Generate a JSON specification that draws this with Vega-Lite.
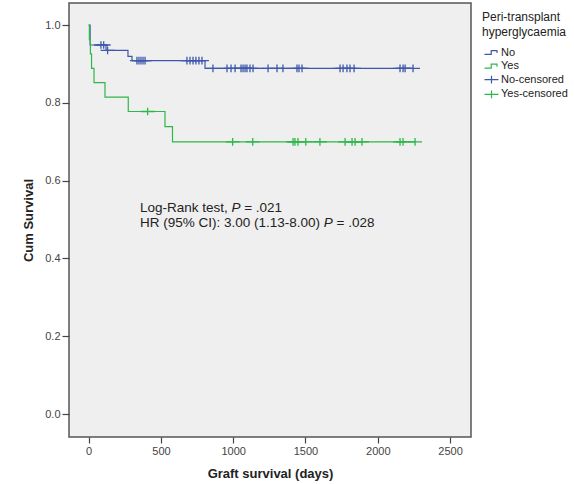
{
  "$schema": "https://vega.github.io/schema/vega-lite/v6.json",
  "width": 402,
  "height": 434,
  "autosize": {"type": "none"},
  "padding": {"left": 69, "top": 3, "right": 103, "bottom": 47},
  "background": "white",
  "config": {
    "font": "Liberation Sans",
    "view": {"fill": "#efefef", "stroke": "#555555", "strokeWidth": 1.5},
    "axis": {"grid": false, "domain": false, "tickColor": "#444444", "tickWidth": 1.2, "labelFont": "Liberation Sans", "labelFontSize": 11, "labelColor": "#444444", "titleFont": "Liberation Sans", "titleFontSize": 13, "titleFontWeight": "bold", "titleColor": "#222222"},
    "legend": {"orient": "none", "legendX": 413, "legendY": 9, "titleFont": "Liberation Sans", "titleFontSize": 12, "titleFontWeight": "normal", "titleColor": "#222222", "titleLineHeight": 15, "titlePadding": 7, "labelFont": "Liberation Sans", "labelFontSize": 11, "labelColor": "#222222", "symbolSize": 121, "symbolStrokeWidth": 1.2, "symbolOffset": 3, "labelOffset": 3, "rowPadding": 1.6}
  },
  "datasets": {
    "curves": [
      {"grp": "No", "day": 0, "surv": 1},
      {"grp": "No", "day": 10, "surv": 0.949},
      {"grp": "No", "day": 120, "surv": 0.935},
      {"grp": "No", "day": 272, "surv": 0.92},
      {"grp": "No", "day": 300, "surv": 0.909},
      {"grp": "No", "day": 805, "surv": 0.889},
      {"grp": "No", "day": 2244, "surv": 0.889},
      {"grp": "Yes", "day": 0, "surv": 1},
      {"grp": "Yes", "day": 5, "surv": 0.963},
      {"grp": "Yes", "day": 12, "surv": 0.926},
      {"grp": "Yes", "day": 20, "surv": 0.889},
      {"grp": "Yes", "day": 37, "surv": 0.852},
      {"grp": "Yes", "day": 113, "surv": 0.815},
      {"grp": "Yes", "day": 274, "surv": 0.778},
      {"grp": "Yes", "day": 528, "surv": 0.739},
      {"grp": "Yes", "day": 580, "surv": 0.7},
      {"grp": "Yes", "day": 2258, "surv": 0.7}
    ],
    "censored": [
      {"series": "No-censored", "day": 85, "surv": 0.949},
      {"series": "No-censored", "day": 104, "surv": 0.949},
      {"series": "No-censored", "day": 131, "surv": 0.935},
      {"series": "No-censored", "day": 334, "surv": 0.909},
      {"series": "No-censored", "day": 348, "surv": 0.909},
      {"series": "No-censored", "day": 362, "surv": 0.909},
      {"series": "No-censored", "day": 376, "surv": 0.909},
      {"series": "No-censored", "day": 390, "surv": 0.909},
      {"series": "No-censored", "day": 680, "surv": 0.909},
      {"series": "No-censored", "day": 701, "surv": 0.909},
      {"series": "No-censored", "day": 722, "surv": 0.909},
      {"series": "No-censored", "day": 742, "surv": 0.909},
      {"series": "No-censored", "day": 763, "surv": 0.909},
      {"series": "No-censored", "day": 784, "surv": 0.909},
      {"series": "No-censored", "day": 860, "surv": 0.889},
      {"series": "No-censored", "day": 957, "surv": 0.889},
      {"series": "No-censored", "day": 985, "surv": 0.889},
      {"series": "No-censored", "day": 1013, "surv": 0.889},
      {"series": "No-censored", "day": 1054, "surv": 0.889},
      {"series": "No-censored", "day": 1068, "surv": 0.889},
      {"series": "No-censored", "day": 1082, "surv": 0.889},
      {"series": "No-censored", "day": 1095, "surv": 0.889},
      {"series": "No-censored", "day": 1116, "surv": 0.889},
      {"series": "No-censored", "day": 1137, "surv": 0.889},
      {"series": "No-censored", "day": 1241, "surv": 0.889},
      {"series": "No-censored", "day": 1303, "surv": 0.889},
      {"series": "No-censored", "day": 1344, "surv": 0.889},
      {"series": "No-censored", "day": 1441, "surv": 0.889},
      {"series": "No-censored", "day": 1455, "surv": 0.889},
      {"series": "No-censored", "day": 1476, "surv": 0.889},
      {"series": "No-censored", "day": 1739, "surv": 0.889},
      {"series": "No-censored", "day": 1760, "surv": 0.889},
      {"series": "No-censored", "day": 1787, "surv": 0.889},
      {"series": "No-censored", "day": 1808, "surv": 0.889},
      {"series": "No-censored", "day": 1836, "surv": 0.889},
      {"series": "No-censored", "day": 2154, "surv": 0.889},
      {"series": "No-censored", "day": 2175, "surv": 0.889},
      {"series": "No-censored", "day": 2189, "surv": 0.889},
      {"series": "No-censored", "day": 2244, "surv": 0.889},
      {"series": "Yes-censored", "day": 408, "surv": 0.778},
      {"series": "Yes-censored", "day": 996, "surv": 0.7},
      {"series": "Yes-censored", "day": 1135, "surv": 0.7},
      {"series": "Yes-censored", "day": 1414, "surv": 0.7},
      {"series": "Yes-censored", "day": 1427, "surv": 0.7},
      {"series": "Yes-censored", "day": 1448, "surv": 0.7},
      {"series": "Yes-censored", "day": 1502, "surv": 0.7},
      {"series": "Yes-censored", "day": 1600, "surv": 0.7},
      {"series": "Yes-censored", "day": 1774, "surv": 0.7},
      {"series": "Yes-censored", "day": 1822, "surv": 0.7},
      {"series": "Yes-censored", "day": 1843, "surv": 0.7},
      {"series": "Yes-censored", "day": 1891, "surv": 0.7},
      {"series": "Yes-censored", "day": 2154, "surv": 0.7},
      {"series": "Yes-censored", "day": 2175, "surv": 0.7},
      {"series": "Yes-censored", "day": 2258, "surv": 0.7}
    ],
    "notes": [
      {"day": 355, "surv": 0.519, "t": "Log-Rank test,", "it": false},
      {"day": 988, "surv": 0.519, "t": "P", "it": true},
      {"day": 1076, "surv": 0.519, "t": "= .021", "it": false},
      {"day": 355, "surv": 0.481, "t": "HR (95% CI): 3.00 (1.13-8.00)", "it": false},
      {"day": 1626, "surv": 0.481, "t": "P", "it": true},
      {"day": 1715, "surv": 0.481, "t": "= .028", "it": false}
    ]
  },
  "encoding": {
    "x": {"field": "day", "type": "quantitative", "scale": {"domain": [-136, 2645], "nice": false, "zero": false}, "axis": {"values": [0, 500, 1000, 1500, 2000, 2500], "format": "d", "title": "Graft survival (days)", "tickSize": 6, "labelPadding": 2, "titlePadding": 11}},
    "y": {"field": "surv", "type": "quantitative", "scale": {"domain": [-0.059, 1.057], "nice": false, "zero": false}, "axis": {"values": [0, 0.2, 0.4, 0.6, 0.8, 1], "format": ".1f", "title": "Cum Survival", "tickSize": 7, "labelPadding": 2, "titlePadding": 9}}
  },
  "layer": [
    {
      "data": {"name": "curves"},
      "mark": {"type": "line", "interpolate": "step-after", "strokeWidth": 1.2},
      "encoding": {
        "stroke": {"field": "grp", "type": "nominal", "scale": {"domain": ["No", "Yes"], "range": ["#3e58ac", "#2eb848"]}, "legend": null}
      }
    },
    {
      "data": {"name": "censored"},
      "mark": {"type": "point", "filled": false, "strokeWidth": 1.3, "size": 121, "opacity": 1},
      "encoding": {
        "color": {"field": "series", "type": "nominal", "scale": {"domain": ["No", "Yes", "No-censored", "Yes-censored"], "range": ["#3e58ac", "#2eb848", "#3e58ac", "#2eb848"]}, "legend": {"title": ["Peri-transplant", "hyperglycaemia"]}},
        "shape": {"field": "series", "type": "nominal", "scale": {"domain": ["No", "Yes", "No-censored", "Yes-censored"], "range": ["M-1.27,0.35H-0.05V-0.35H1.0V0.1", "M-1.27,0.35H-0.05V-0.35H1.0V0.1", "M-1.27,0H1.27M0,-0.7V0.7", "M-1.27,0H1.27M0,-0.7V0.7"]}, "legend": {"title": ["Peri-transplant", "hyperglycaemia"]}}
      }
    },
    {
      "data": {"name": "notes"},
      "transform": [{"filter": "!datum.it"}],
      "mark": {"type": "text", "align": "left", "baseline": "alphabetic", "fontSize": 13.5, "color": "#222222", "font": "Liberation Sans"},
      "encoding": {"text": {"field": "t"}}
    },
    {
      "data": {"name": "notes"},
      "transform": [{"filter": "datum.it"}],
      "mark": {"type": "text", "align": "left", "baseline": "alphabetic", "fontSize": 13.5, "fontStyle": "italic", "color": "#222222", "font": "Liberation Sans"},
      "encoding": {"text": {"field": "t"}}
    }
  ]
}
